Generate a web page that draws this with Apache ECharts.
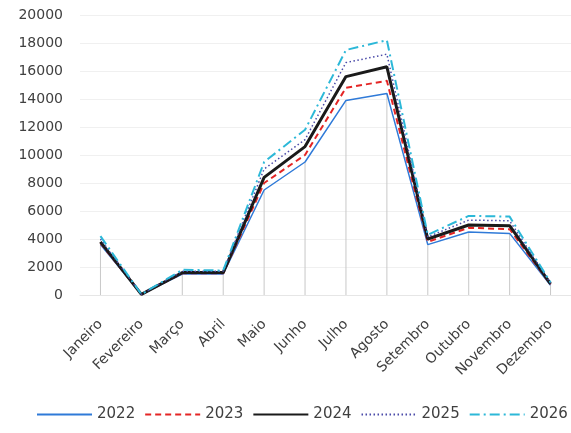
<!DOCTYPE html>
<html><head><meta charset="utf-8">
<script src="https://cdn.jsdelivr.net/npm/echarts@6/dist/echarts.min.js"></script>
<style>html,body{margin:0;padding:0;background:#fff}#c{width:571px;height:433px}</style>
</head><body><div id="c"></div>
<script>
const categories = ['Janeiro','Fevereiro','Março','Abril','Maio','Junho','Julho','Agosto','Setembro','Outubro','Novembro','Dezembro'];
const s2022 = [3600, 50, 1500, 1500, 7500, 9500, 13900, 14400, 3600, 4500, 4400, 700];
const s2023 = [3700, 50, 1550, 1550, 8000, 10000, 14800, 15300, 3800, 4800, 4700, 750];
const s2024 = [3800, 50, 1600, 1600, 8400, 10600, 15600, 16300, 4000, 5000, 4950, 800];
const s2025 = [4000, 50, 1700, 1700, 9000, 11100, 16600, 17200, 4150, 5350, 5300, 850];
const s2026 = [4200, 50, 1800, 1750, 9500, 11800, 17500, 18200, 4300, 5650, 5600, 900];
const yTicks = {min: 0, max: 20000, interval: 2000};

const font = 'DejaVu Sans';
const chart = echarts.init(document.getElementById('c'));
function line(name, data, color, width, type) {
  return {name, type: 'line', data, symbol: 'none', z: 3,
    lineStyle: {color, width, type}, itemStyle: {color}};
}
chart.setOption({
  animation: false,
  backgroundColor: '#fff',
  grid: {left: 80, right: -1, top: 15, bottom: 138},
  xAxis: {type: 'category', data: categories, boundaryGap: true,
    axisLine: {show: true, lineStyle: {color: '#e6e6e6'}}, axisTick: {show: false},
    axisLabel: {rotate: 45, interval: 0, margin: 27, color: '#404040', fontFamily: font, fontSize: 14}},
  yAxis: {type: 'value', min: yTicks.min, max: yTicks.max, interval: yTicks.interval,
    axisLine: {show: false}, axisTick: {show: false},
    splitLine: {lineStyle: {color: '#f0f0f0'}},
    axisLabel: {margin: 17, color: '#404040', fontFamily: font, fontSize: 14,
      formatter: v => String(v)}},
  legend: {bottom: 11, left: 36, right: 0, padding: 0, itemWidth: 55, itemHeight: 10, itemGap: 9,
    data: ['2022','2023','2024','2025','2026'],
    itemStyle: {opacity: 0},
    textStyle: {color: '#404040', fontFamily: font, fontSize: 15}},
  series: [
    {name: 'drop', type: 'bar', data: s2022, barWidth: 1, silent: true, z: 1,
      itemStyle: {color: '#c8c8c8'}},
    line('2022', s2022, '#2f7ad8', 1.5, 'solid'),
    line('2023', s2023, '#e42525', 2, [6, 4]),
    line('2024', s2024, '#1a1a1a', 3, 'solid'),
    line('2025', s2025, '#4a4aa8', 1.5, [1.5, 2.5]),
    line('2026', s2026, '#2cb8d8', 2, [10, 4, 2, 4])
  ]
});
</script></body></html>
